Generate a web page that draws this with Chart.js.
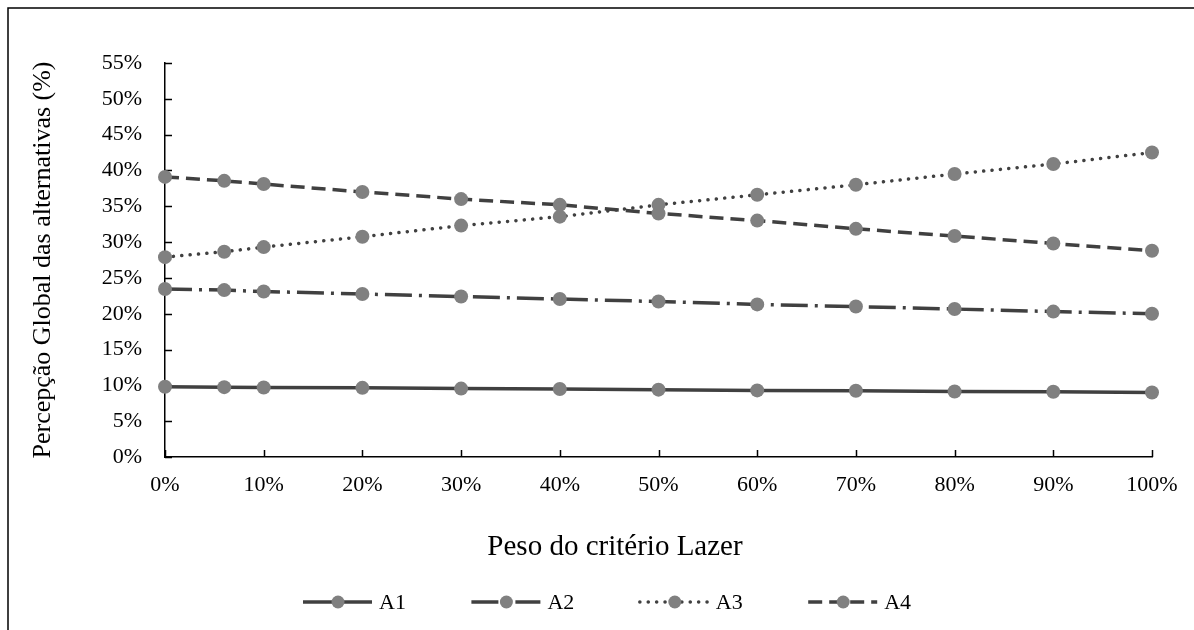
<!DOCTYPE html>
<html>
<head>
<meta charset="utf-8">
<title>Percepção Global das alternativas</title>
<script src="https://cdn.jsdelivr.net/npm/chart.js@4.4.0/dist/chart.umd.min.js"></script>
<style>
    html, body {margin: 0; padding: 0; background: #fff;}
    canvas {display: block;}
</style>
</head>
<body>
<canvas id="line_style" width="1194" height="630"></canvas>
<script>
/*------------------------------------------------------*/
/**
 * @name peso_lazer
 * @description x values, weight of the "Lazer" criterion (%)
 */
const peso_lazer = [0, 6, 10, 20, 30, 40, 50, 60, 70, 80, 90, 100];
/**
 * @name series_*
 * @description global perception of each alternative (%)
 */
const series_a1 = [9.8, 9.75, 9.7, 9.65, 9.55, 9.5, 9.4, 9.3, 9.25, 9.15, 9.1, 9.0];
const series_a2 = [23.45, 23.3, 23.1, 22.75, 22.4, 22.05, 21.7, 21.3, 21.0, 20.65, 20.3, 20.0];
const series_a3 = [27.9, 28.65, 29.3, 30.75, 32.3, 33.55, 35.2, 36.6, 38.0, 39.5, 40.9, 42.5];
const series_a4 = [39.1, 38.55, 38.1, 37.0, 36.0, 35.2, 34.0, 33.0, 31.85, 30.85, 29.8, 28.8];
/**
 * @name labels / titles
 */
const series_names = ['A1', 'A2', 'A3', 'A4'];
const x_title = 'Peso do critério Lazer';
const y_title = 'Percepção Global das alternativas (%)';

const font_family = '"Liberation Serif", "Times New Roman", Times, serif';
const line_color = '#404040';
const marker_color = '#808080';

// pair x values with each series
const to_points = values => values.map((v, i) => ({x: peso_lazer[i], y: v}));

const dash_styles = [[], [27, 7, 3, 7], [0.1, 8.3], [14, 7]];
const cap_styles = ['butt', 'butt', 'round', 'butt'];

const datasets = [series_a1, series_a2, series_a3, series_a4].map((values, i) => ({
    label: series_names[i],
    data: to_points(values),
    borderColor: line_color,
    borderWidth: 3.5,
    borderDash: dash_styles[i],
    borderCapStyle: cap_styles[i],
    tension: 0,
    fill: false,
    clip: false,
    pointRadius: 7,
    pointBorderWidth: 0,
    pointBackgroundColor: marker_color,
    pointBorderColor: marker_color
}));

/**
 * @name excel_look
 * @description frame, inward tick marks, x title and legend like the original
 */
const excel_look = {
    id: 'excel_look',
    beforeDraw(chart) {
        const ctx = chart.ctx;
        ctx.save();
        ctx.fillStyle = '#fff';
        ctx.fillRect(0, 0, chart.width, chart.height);
        ctx.strokeStyle = '#000';
        ctx.lineWidth = 1.5;
        ctx.strokeRect(8, 8, chart.width + 20, chart.height + 20);
        ctx.restore();
    },
    beforeDatasetsDraw(chart) {
        const {ctx, chartArea: area, scales: {x, y}} = chart;
        ctx.save();
        ctx.strokeStyle = '#000';
        ctx.lineWidth = 1.5;
        ctx.beginPath();
        y.ticks.forEach(t => {
            const py = Math.round(y.getPixelForValue(t.value)) + 0.5;
            ctx.moveTo(area.left, py);
            ctx.lineTo(area.left + 7, py);
        });
        x.ticks.forEach(t => {
            const px = Math.round(x.getPixelForValue(t.value)) + 0.5;
            ctx.moveTo(px, area.bottom);
            ctx.lineTo(px, area.bottom - 7);
        });
        ctx.stroke();
        ctx.restore();
    },
    afterDraw(chart) {
        const ctx = chart.ctx;
        ctx.save();
        // x axis title
        ctx.fillStyle = '#000';
        ctx.font = '29px ' + font_family;
        ctx.textAlign = 'center';
        ctx.textBaseline = 'alphabetic';
        ctx.fillText(x_title, 615, 555);
        // legend
        ctx.font = '22px ' + font_family;
        ctx.textAlign = 'left';
        ctx.textBaseline = 'middle';
        chart.data.datasets.forEach((ds, i) => {
            const x0 = 303 + i * 168.4;
            const ly = 602;
            ctx.strokeStyle = ds.borderColor;
            ctx.lineWidth = ds.borderWidth;
            ctx.lineCap = ds.borderCapStyle;
            ctx.setLineDash(ds.borderDash);
            ctx.beginPath();
            ctx.moveTo(x0, ly);
            ctx.lineTo(x0 + 69, ly);
            ctx.stroke();
            ctx.setLineDash([]);
            ctx.fillStyle = ds.pointBackgroundColor;
            ctx.beginPath();
            ctx.arc(x0 + 35, ly, 6.5, 0, Math.PI * 2);
            ctx.fill();
            ctx.fillStyle = '#000';
            ctx.fillText(ds.label, x0 + 76, ly + 1);
        });
        ctx.restore();
    }
};

const options = {
    responsive: false,
    animation: false,
    events: [],
    devicePixelRatio: 1,
    layout: {padding: {top: 63, right: 42, bottom: 123, left: 0}},
    plugins: {
        legend: {display: false},
        tooltip: {enabled: false},
        title: {display: false}
    },
    scales: {
        x: {
            type: 'linear',
            min: 0,
            max: 100,
            grid: {display: false, drawTicks: false},
            border: {display: true, color: '#000', width: 1.5},
            ticks: {
                stepSize: 10,
                autoSkip: false,
                maxRotation: 0,
                padding: 15,
                color: '#000',
                font: {size: 22, family: font_family},
                callback: v => v + '%'
            },
            afterFit: scale => { scale.height = 50; }
        },
        y: {
            min: 0,
            max: 55,
            grid: {display: false, drawTicks: false},
            border: {display: true, color: '#000', width: 1.5},
            ticks: {
                stepSize: 5,
                padding: 23,
                color: '#000',
                font: {size: 22, family: font_family},
                callback: v => v + '%'
            },
            title: {
                display: true,
                text: y_title,
                color: '#000',
                font: {size: 26, family: font_family},
                padding: {top: 28, bottom: 0}
            },
            afterFit: scale => { scale.width = 165; }
        }
    }
};

const ctx = document.getElementById('line_style');
const chart_line = new Chart(ctx, {
    type: 'line',
    data: {datasets: datasets},
    options: options,
    plugins: [excel_look]
});
</script>
</body>
</html>
